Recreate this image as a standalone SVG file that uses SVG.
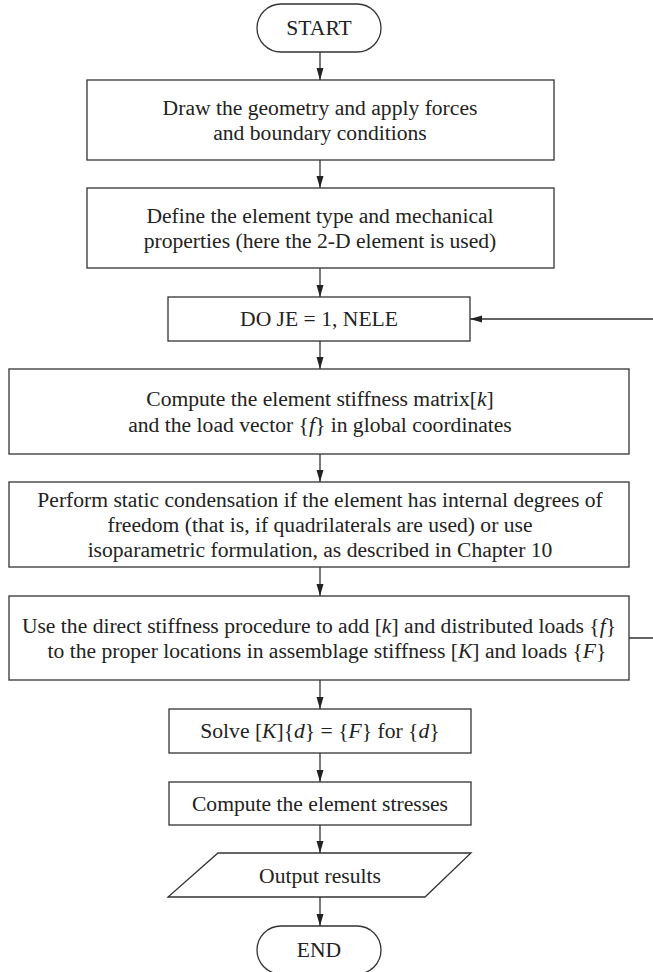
<svg xmlns="http://www.w3.org/2000/svg" width="653" height="972" viewBox="0 0 653 972">
<defs>
<style>
.n{fill:#fff;stroke:#333;stroke-width:1.3}
.t{font-family:"Liberation Serif","Times New Roman",serif;font-size:21.6px;fill:#222;text-anchor:middle}
.i{font-style:italic}
.c{fill:none;stroke:#333;stroke-width:1.3}
</style>
<marker id="ah" markerUnits="userSpaceOnUse" markerWidth="12" markerHeight="8" refX="12" refY="4" orient="auto">
<path d="M0,0.5 L12,4 L0,7.5 z" fill="#222"/>
</marker>
</defs>
<rect width="653" height="972" fill="#fff"/>
<g id="connectors">
<line class="c" x1="320" y1="52" x2="320" y2="80" marker-end="url(#ah)"/>
<line class="c" x1="320" y1="160" x2="320" y2="188" marker-end="url(#ah)"/>
<line class="c" x1="320" y1="268" x2="320" y2="297" marker-end="url(#ah)"/>
<line class="c" x1="320" y1="341" x2="320" y2="369" marker-end="url(#ah)"/>
<line class="c" x1="320" y1="454" x2="320" y2="482" marker-end="url(#ah)"/>
<line class="c" x1="320" y1="567" x2="320" y2="596" marker-end="url(#ah)"/>
<line class="c" x1="320" y1="680" x2="320" y2="709" marker-end="url(#ah)"/>
<line class="c" x1="320" y1="753" x2="320" y2="782" marker-end="url(#ah)"/>
<line class="c" x1="320" y1="825" x2="320" y2="853" marker-end="url(#ah)"/>
<line class="c" x1="320" y1="897" x2="320" y2="926" marker-end="url(#ah)"/>
<path class="c" d="M629,638 H654.5 V319 H470" marker-end="url(#ah)"/>
</g>
<g id="start">
<rect class="n" x="257" y="4" width="124" height="48" rx="24"/>
<text class="t" x="319" y="35">START</text>
</g>
<g id="geometry">
<rect class="n" x="87" y="80" width="467" height="80"/>
<text class="t" x="320" y="115">Draw the geometry and apply forces</text>
<text class="t" x="320" y="140">and boundary conditions</text>
</g>
<g id="element-type">
<rect class="n" x="87" y="188" width="467" height="80"/>
<text class="t" x="320" y="223">Define the element type and mechanical</text>
<text class="t" x="320" y="248">properties (here the 2-D element is used)</text>
</g>
<g id="do-loop">
<rect class="n" x="168" y="297" width="302" height="44"/>
<text class="t" x="319" y="326">DO JE = 1, NELE</text>
</g>
<g id="stiffness">
<rect class="n" x="9" y="369" width="620" height="85"/>
<text class="t" x="320" y="406">Compute the element stiffness matrix[<tspan class="i">k</tspan>]</text>
<text class="t" x="320" y="432">and the load vector {<tspan class="i">f</tspan>} in global coordinates</text>
</g>
<g id="condensation">
<rect class="n" x="9" y="482" width="620" height="85"/>
<text class="t" x="320" y="507">Perform static condensation if the element has internal degrees of</text>
<text class="t" x="320" y="532">freedom (that is, if quadrilaterals are used) or use</text>
<text class="t" x="320" y="557">isoparametric formulation, as described in Chapter 10</text>
</g>
<g id="assemble">
<rect class="n" x="9" y="596" width="620" height="84"/>
<text class="t" x="319" y="633">Use the direct stiffness procedure to add [<tspan class="i">k</tspan>] and distributed loads {<tspan class="i">f</tspan>}</text>
<text class="t" x="327" y="658">to the proper locations in assemblage stiffness [<tspan class="i">K</tspan>] and loads {<tspan class="i">F</tspan>}</text>
</g>
<g id="solve">
<rect class="n" x="169" y="709" width="302" height="44"/>
<text class="t" x="320" y="738">Solve [<tspan class="i">K</tspan>]{<tspan class="i">d</tspan>} = {<tspan class="i">F</tspan>} for {<tspan class="i">d</tspan>}</text>
</g>
<g id="stresses">
<rect class="n" x="169" y="782" width="302" height="43"/>
<text class="t" x="320" y="811">Compute the element stresses</text>
</g>
<g id="output">
<polygon class="n" points="218,853 471,853 425,897 168,897"/>
<text class="t" x="320" y="883">Output results</text>
</g>
<g id="end">
<rect class="n" x="257" y="926" width="124" height="48" rx="24"/>
<text class="t" x="319" y="957">END</text>
</g>
</svg>
